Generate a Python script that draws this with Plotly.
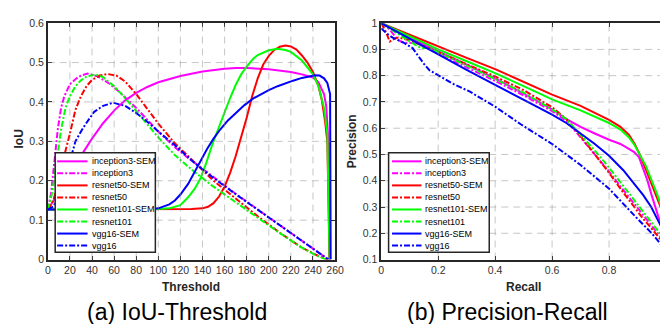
import plotly.graph_objects as go

# ---------------- data: (a) IoU vs threshold ----------------
inc3_sem_t = [0, 10, 20, 30, 40, 50, 60, 70, 80, 90, 100, 120, 140, 160, 170, 180, 200, 220, 230, 240, 245, 250, 252, 254, 255]
inc3_sem_v = [0.127, 0.17, 0.22, 0.265, 0.307, 0.346, 0.378, 0.404, 0.423, 0.438, 0.45, 0.466, 0.477, 0.484, 0.486, 0.486, 0.483, 0.476, 0.47, 0.462, 0.45, 0.42, 0.39, 0.3, 0.0]

inc3_t = [0, 3, 6, 9, 12, 15, 20, 26, 30, 36, 45, 55, 65, 80, 100, 115, 127, 140, 150, 170, 190, 210, 230, 245, 254]
inc3_v = [0.127, 0.17, 0.25, 0.33, 0.385, 0.415, 0.445, 0.46, 0.467, 0.472, 0.465, 0.448, 0.425, 0.385, 0.325, 0.285, 0.258, 0.23, 0.21, 0.167, 0.127, 0.087, 0.048, 0.018, 0.0]

r50_sem_t = [0, 100, 120, 130, 140, 145, 150, 155, 160, 165, 170, 175, 180, 185, 190, 195, 200, 205, 210, 215, 220, 225, 230, 235, 240, 245, 248, 251, 253, 255]
r50_sem_v = [0.127, 0.127, 0.127, 0.128, 0.13, 0.134, 0.143, 0.16, 0.185, 0.22, 0.262, 0.31, 0.36, 0.415, 0.46, 0.495, 0.517, 0.532, 0.54, 0.543, 0.541, 0.533, 0.518, 0.5, 0.476, 0.44, 0.405, 0.35, 0.3, 0.0]

r50_t = [0, 5, 10, 15, 20, 25, 30, 35, 40, 47, 54, 62, 70, 80, 88, 100, 115, 132, 150, 170, 190, 210, 230, 245, 253]
r50_v = [0.127, 0.15, 0.2, 0.265, 0.32, 0.38, 0.415, 0.44, 0.456, 0.467, 0.471, 0.467, 0.452, 0.42, 0.39, 0.345, 0.295, 0.25, 0.2, 0.155, 0.11, 0.068, 0.03, 0.009, 0.0]

r101_sem_t = [0, 90, 100, 110, 120, 127, 133, 138, 143, 149, 155, 160, 165, 170, 175, 180, 186, 190, 200, 208, 215, 220, 230, 240, 245, 250, 253, 255]
r101_sem_v = [0.127, 0.127, 0.128, 0.13, 0.138, 0.158, 0.18, 0.205, 0.242, 0.293, 0.338, 0.375, 0.41, 0.443, 0.47, 0.49, 0.51, 0.519, 0.531, 0.535, 0.532, 0.527, 0.505, 0.47, 0.44, 0.385, 0.32, 0.0]

r101_t = [0, 4, 8, 12, 16, 20, 25, 30, 35, 43, 50, 60, 70, 80, 90, 100, 115, 132, 150, 170, 190, 210, 230, 245, 252]
r101_v = [0.127, 0.17, 0.25, 0.33, 0.385, 0.415, 0.44, 0.455, 0.464, 0.47, 0.463, 0.44, 0.41, 0.377, 0.343, 0.31, 0.265, 0.224, 0.185, 0.145, 0.105, 0.067, 0.03, 0.008, 0.0]

vgg_sem_t = [0, 90, 100, 110, 115, 120, 127, 132, 138, 144, 150, 156, 163, 171, 178, 186, 193, 200, 208, 215, 222, 230, 236, 242, 246, 250, 253, 255, 255.5, 256]
vgg_sem_v = [0.127, 0.127, 0.13, 0.14, 0.15, 0.165, 0.192, 0.218, 0.25, 0.28, 0.307, 0.33, 0.353, 0.375, 0.392, 0.409, 0.42, 0.43, 0.44, 0.448, 0.454, 0.461, 0.465, 0.468, 0.467, 0.46, 0.448, 0.43, 0.42, 0.0]

vgg_t = [0, 5, 10, 15, 20, 25, 30, 34, 42, 50, 59, 70, 80, 90, 100, 115, 132, 150, 170, 190, 210, 230, 245, 254]
vgg_v = [0.127, 0.135, 0.16, 0.2, 0.25, 0.3, 0.325, 0.343, 0.375, 0.39, 0.398, 0.39, 0.372, 0.35, 0.325, 0.29, 0.247, 0.207, 0.166, 0.126, 0.086, 0.047, 0.018, 0.0]

# ---------------- data: (b) precision vs recall ----------------
inc3_sem_r = [0, 0.1, 0.2, 0.3, 0.4, 0.5, 0.6, 0.65, 0.7, 0.75, 0.8, 0.84, 0.887, 0.905, 0.92, 0.935, 0.948, 0.97, 0.99, 1.0]
inc3_sem_p = [1.0, 0.945, 0.893, 0.842, 0.79, 0.732, 0.672, 0.635, 0.605, 0.58, 0.556, 0.54, 0.51, 0.49, 0.447, 0.4, 0.35, 0.276, 0.2, 0.17]

inc3_r = [0, 0.03, 0.06, 0.08, 0.1, 0.13, 0.16, 0.2, 0.3, 0.4, 0.5, 0.6, 0.65, 0.7, 0.75, 0.8, 0.85, 0.887, 0.92, 0.948, 0.975, 1.0]
inc3_p = [1.0, 0.975, 0.935, 0.925, 0.925, 0.922, 0.905, 0.885, 0.832, 0.78, 0.725, 0.665, 0.628, 0.565, 0.5, 0.435, 0.365, 0.315, 0.27, 0.23, 0.195, 0.16]

r50_sem_r = [0, 0.1, 0.2, 0.3, 0.4, 0.5, 0.6, 0.7, 0.75, 0.8, 0.84, 0.87, 0.89, 0.91, 0.93, 0.95, 0.97, 0.99, 1.0]
r50_sem_p = [1.0, 0.955, 0.91, 0.868, 0.825, 0.775, 0.728, 0.685, 0.66, 0.632, 0.605, 0.575, 0.54, 0.495, 0.44, 0.385, 0.33, 0.275, 0.2]

r50_r = [0, 0.015, 0.03, 0.045, 0.06, 0.1, 0.2, 0.3, 0.4, 0.5, 0.6, 0.65, 0.7, 0.75, 0.8, 0.85, 0.887, 0.92, 0.948, 0.975, 1.0]
r50_p = [1.0, 0.97, 0.93, 0.94, 0.945, 0.935, 0.89, 0.845, 0.797, 0.745, 0.68, 0.635, 0.57, 0.5, 0.43, 0.355, 0.3, 0.255, 0.22, 0.185, 0.15]

r101_sem_r = [0, 0.1, 0.2, 0.3, 0.4, 0.5, 0.6, 0.7, 0.8, 0.84, 0.87, 0.89, 0.91, 0.93, 0.95, 0.97, 0.99, 1.0]
r101_sem_p = [1.0, 0.95, 0.9, 0.855, 0.81, 0.76, 0.71, 0.668, 0.62, 0.595, 0.565, 0.535, 0.495, 0.455, 0.4, 0.345, 0.28, 0.22]

r101_r = [0, 0.05, 0.1, 0.13, 0.15, 0.17, 0.2, 0.3, 0.4, 0.5, 0.6, 0.65, 0.7, 0.75, 0.8, 0.85, 0.887, 0.92, 0.948, 0.975, 1.0]
r101_p = [1.0, 0.965, 0.93, 0.91, 0.905, 0.905, 0.89, 0.84, 0.787, 0.735, 0.672, 0.635, 0.575, 0.515, 0.45, 0.38, 0.33, 0.285, 0.245, 0.205, 0.165]

vgg_sem_r = [0, 0.1, 0.2, 0.3, 0.4, 0.5, 0.6, 0.65, 0.7, 0.75, 0.8, 0.85, 0.887, 0.92, 0.948, 0.97, 0.99, 1.0]
vgg_sem_p = [1.0, 0.94, 0.88, 0.822, 0.765, 0.71, 0.652, 0.62, 0.58, 0.54, 0.495, 0.44, 0.39, 0.345, 0.3, 0.255, 0.21, 0.18]

vgg_r = [0, 0.02, 0.04, 0.08, 0.11, 0.13, 0.15, 0.17, 0.2, 0.25, 0.31, 0.4, 0.49, 0.6, 0.7, 0.8, 0.9, 0.95, 1.0]
vgg_p = [0.98, 0.96, 0.945, 0.925, 0.905, 0.875, 0.845, 0.82, 0.8, 0.77, 0.74, 0.682, 0.615, 0.54, 0.46, 0.37, 0.255, 0.2, 0.135]

series_names = ["inception3-SEM", "inception3", "resnet50-SEM", "resnet50",
                "resnet101-SEM", "resnet101", "vgg16-SEM", "vgg16"]
series_colors = ["#ff00ff", "#ff00ff", "#ff0000", "#ff0000",
                 "#00ff00", "#00ff00", "#0000ff", "#0000ff"]
series_solid = [True, False, True, False, True, False, True, False]

iou_data = [(inc3_sem_t, inc3_sem_v), (inc3_t, inc3_v), (r50_sem_t, r50_sem_v), (r50_t, r50_v),
            (r101_sem_t, r101_sem_v), (r101_t, r101_v), (vgg_sem_t, vgg_sem_v), (vgg_t, vgg_v)]
pr_data = [(inc3_sem_r, inc3_sem_p), (inc3_r, inc3_p), (r50_sem_r, r50_sem_p), (r50_r, r50_p),
           (r101_sem_r, r101_sem_p), (r101_r, r101_p), (vgg_sem_r, vgg_sem_p), (vgg_r, vgg_p)]

iou_xticks = list(range(0, 261, 20))
iou_yticks = [0, 0.1, 0.2, 0.3, 0.4, 0.5, 0.6]
iou_ytext = ["0", "0.1", "0.2", "0.3", "0.4", "0.5", "0.6"]
pr_xticks = [0, 0.2, 0.4, 0.6, 0.8]
pr_xtext = ["0", "0.2", "0.4", "0.6", "0.8"]
pr_yticks = [0.1, 0.2, 0.3, 0.4, 0.5, 0.6, 0.7, 0.8, 0.9, 1.0]
pr_ytext = ["0.1", "0.2", "0.3", "0.4", "0.5", "0.6", "0.7", "0.8", "0.9", "1"]

# ---------------- layout helpers ----------------
W, H = 668, 324
def px(x):
    return x / W
def py(y):
    return 1 - y / H

DASHDOT = "6px,2px,2px,2px"
GRIDDASH = "7px,5px"
GRIDCOLOR = "rgba(130,130,130,0.45)"
FONT = "Liberation Sans, Arial, Helvetica, sans-serif"
AX = "#262626"

fig = go.Figure()
for i in range(8):
    dash = "solid" if series_solid[i] else DASHDOT
    t, v = iou_data[i]
    fig.add_trace(go.Scatter(x=t, y=v, mode="lines", name=series_names[i],
                             line=dict(color=series_colors[i], width=2, dash=dash),
                             xaxis="x", yaxis="y", showlegend=False))
for i in range(8):
    dash = "solid" if series_solid[i] else DASHDOT
    r, p = pr_data[i]
    fig.add_trace(go.Scatter(x=r, y=p, mode="lines", name=series_names[i],
                             line=dict(color=series_colors[i], width=2, dash=dash),
                             xaxis="x2", yaxis="y2", showlegend=False))

def axis(domain, rng, tickvals, ticktext, anchor):
    return dict(domain=domain, range=rng, tickmode="array", tickvals=tickvals, ticktext=ticktext,
                anchor=anchor, showline=True, linecolor=AX, linewidth=1.5, mirror="allticks",
                ticks="inside", ticklen=4, tickcolor=AX, tickwidth=1,
                showgrid=False, zeroline=False,
                tickfont=dict(family=FONT, size=10.5, color="#333333"))

ydom = [py(255), py(9.5)]
fig.update_layout(
    width=W, height=H, margin=dict(l=0, r=0, t=0, b=0),
    paper_bgcolor="white", plot_bgcolor="white",
    xaxis=axis([px(37.5), px(330)], [0, 260], iou_xticks, [str(v) for v in iou_xticks], "y"),
    yaxis=axis(ydom, [0, 0.6], iou_yticks, iou_ytext, "x"),
    xaxis2=axis([px(377), px(667)], [0, 1], pr_xticks, pr_xtext, "y2"),
    yaxis2=axis(ydom, [0.1, 1.0], pr_yticks, pr_ytext, "x2"),
)

shapes = []
# dashed MATLAB-style grid at the tick values (semi-transparent, drawn in the top layer)
def grid(xref, yref, xvals, yvals):
    for v in xvals:
        shapes.append(dict(type="line", xref=xref, yref=yref + " domain", x0=v, x1=v, y0=0, y1=1,
                           line=dict(color=GRIDCOLOR, width=1, dash=GRIDDASH), layer="above"))
    for v in yvals:
        shapes.append(dict(type="line", xref=xref + " domain", yref=yref, x0=0, x1=1, y0=v, y1=v,
                           line=dict(color=GRIDCOLOR, width=1, dash=GRIDDASH), layer="above"))
grid("x", "y", iou_xticks[1:-1], iou_yticks[1:-1])
grid("x2", "y2", pr_xticks[1:], pr_yticks[1:-1])

# axis titles and captions
ann = [
    dict(text="<b>Threshold</b>", x=px(183), y=py(283), font=dict(size=12, color=AX)),
    dict(text="<b>Recall</b>", x=px(522), y=py(283), font=dict(size=12, color=AX)),
    dict(text="<b>IoU</b>", x=px(8.5), y=py(130), textangle=-90, font=dict(size=12, color=AX)),
    dict(text="<b>Precision</b>", x=px(347.5), y=py(132), textangle=-90, font=dict(size=12, color=AX)),
    dict(text="(a) IoU-Threshold", x=px(169), y=py(309), font=dict(size=23, color="black")),
    dict(text="(b) Precision-Recall", x=px(506), y=py(309), font=dict(size=23, color="black")),
]
for a in ann:
    a.update(xref="paper", yref="paper", showarrow=False, xanchor="center", yanchor="middle")
    a["font"]["family"] = FONT
    fig.add_annotation(**a)

# custom legends (MATLAB style)
for (bx0, bx1, lx0, lx1, tx) in [(45, 147, 47, 78, 80.5), (384.5, 487, 388, 418, 420)]:
    shapes.append(dict(type="rect", xref="paper", yref="paper", x0=px(bx0), x1=px(bx1),
                       y0=py(247.5), y1=py(144), line=dict(color=AX, width=1.5),
                       fillcolor="white", layer="above"))
    for i in range(8):
        yy = 153 + 12.5 * i
        dash = "solid" if series_solid[i] else DASHDOT
        shapes.append(dict(type="line", xref="paper", yref="paper", x0=px(lx0), x1=px(lx1),
                           y0=py(yy), y1=py(yy), line=dict(color=series_colors[i], width=2, dash=dash),
                           layer="above"))
        fig.add_annotation(text=series_names[i], xref="paper", yref="paper", x=px(tx), y=py(yy),
                           xanchor="left", yanchor="middle", showarrow=False,
                           font=dict(family=FONT, size=9, color="black"))
fig.update_layout(shapes=shapes)

fig.write_html("out.html")
